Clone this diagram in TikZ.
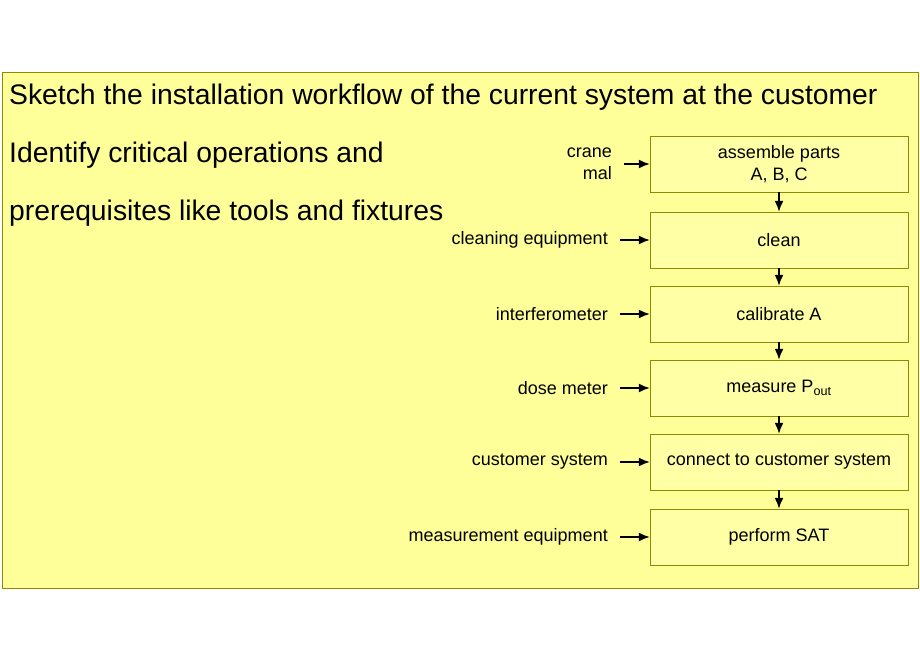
\documentclass[tikz,border=0pt]{standalone}
\usepackage{fontspec}
\setmainfont{Liberation Sans}
\usetikzlibrary{positioning,arrows.meta}
\definecolor{fond}{HTML}{FFFF99}
\definecolor{boite}{HTML}{FFFFA6}
\definecolor{bord}{HTML}{8C8C00}
\begin{document}
\begin{tikzpicture}[x=1pt,y=-1pt]
	\tikzstyle{etape}=[draw=bord,fill=boite,minimum width=258pt,minimum height=56pt,inner sep=0pt,align=center,font=\fontsize{18}{22}\selectfont]
	\tikzstyle{outil}=[anchor=east,inner sep=6pt,align=right,font=\fontsize{18}{22}\selectfont]
	\tikzstyle{fleche}=[-{Latex[length=11pt,width=9pt]},line width=1.6pt]
	\tikzstyle{titre}=[anchor=west,inner sep=0pt,font=\fontsize{28.3}{32}\selectfont]

	\useasboundingbox (0,0) rectangle (920,660);
	\draw[draw=bord,fill=fond] (2,72) rectangle (918,588);

	\node[titre] (t1) at (9,97) {Sketch the installation workflow of the current system at the customer};
	\node[titre] (t2) at (9,155) {Identify critical operations and};
	\node[titre] (t3) at (9,213) {prerequisites like tools and fixtures};

	\node[etape] (b1) at (779,164) {assemble parts\\A, B, C};
	\node[etape] (b2) at (779,240) {clean};
	\node[etape] (b3) at (779,314) {calibrate A};
	\node[etape] (b4) at (779,388) {measure P\textsubscript{out}};
	\node[etape] (b5) at (779,462) {connect to customer system};
	\node[etape] (b6) at (779,537) {perform SAT};

	\node[outil] (o1) at (618,164) {crane\\mal};
	\node[outil] (o2) at (614,240) {cleaning equipment};
	\node[outil] (o3) at (614,314) {interferometer};
	\node[outil] (o4) at (614,388) {dose meter};
	\node[outil] (o5) at (614,462) {customer system};
	\node[outil] (o6) at (614,537) {measurement equipment};

	\foreach \i in {1,...,6} {
		\draw[fleche,shorten <=6pt] (o\i.east) -- (b\i.west);
	}
	\foreach \i/\j in {1/2,2/3,3/4,4/5,5/6} {
		\draw[fleche] (b\i.south) -- (b\j.north);
	}
\end{tikzpicture}
\end{document}
